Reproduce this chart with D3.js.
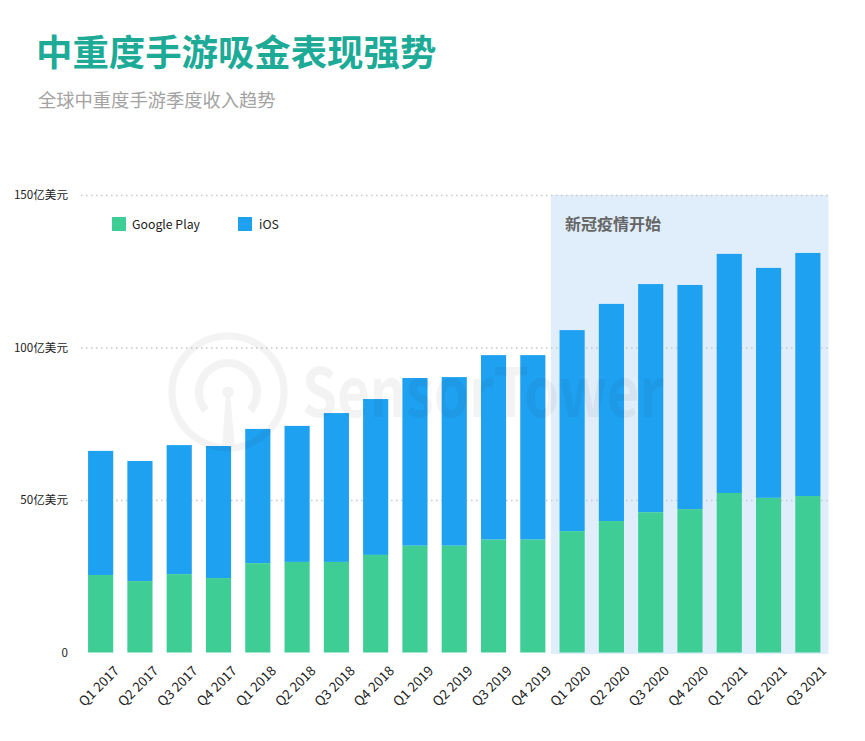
<!DOCTYPE html>
<html>
<head>
<meta charset="utf-8">
<script src="https://cdn.jsdelivr.net/npm/d3@7"></script>
<style>
  html, body { margin: 0; padding: 0; background: #fff; }
  svg { display: block; }
  text { font-family: "Noto Sans CJK SC", "Noto Sans", sans-serif; }
  .axis .domain { display: none; }
  .axis line { stroke: none; }
  .gridlines .domain { display: none; }
  .gridlines line { stroke: #c8c8c8; stroke-width: 1.5; stroke-dasharray: 1.5 3.5; }
</style>
</head>
<body>
<svg class="plot" width="865" height="741"></svg>
<script>
  const quarters = ["Q1 2017", "Q2 2017", "Q3 2017", "Q4 2017", "Q1 2018", "Q2 2018", "Q3 2018", "Q4 2018",
    "Q1 2019", "Q2 2019", "Q3 2019", "Q4 2019", "Q1 2020", "Q2 2020", "Q3 2020", "Q4 2020", "Q1 2021", "Q2 2021", "Q3 2021"]
  const googlePlay = [25.4, 23.4, 25.7, 24.4, 29.3, 29.7, 29.7, 32, 35, 35, 37, 37, 39.8, 43.1, 46, 47, 52.3, 50.7, 51.3]
  const ios = [40.7, 39.4, 42.3, 43.3, 44, 44.6, 48.8, 51.1, 55, 55.3, 60.5, 60.5, 65.9, 71.2, 74.8, 73.5, 78.4, 75.4, 79.7]
  const yTicks = [0, 50, 100, 150]
  const yTickLabels = ["0", "50亿美元", "100亿美元", "150亿美元"]
  const seriesNames = ["Google Play", "iOS"]
  const seriesColors = ["#3ecd94", "#1fa1f2"]
  const covidStart = "Q1 2020"
  const covidLabel = "新冠疫情开始"

  const svg = d3.select("svg.plot")
  const margin = { top: 195, right: 38, bottom: 88, left: 81 }
  const width = 865
  const height = 741
  const chart_right = width - margin.right + 0.5
  const chart_bottom = height - margin.bottom

  const xScale = d3.scaleBand().domain(quarters).range([margin.left, chart_right]).paddingInner(0.36).paddingOuter(0.18)
  const yScale = d3.scaleLinear().domain([0, 150]).range([chart_bottom - 0.5, margin.top])

  svg.append("text").attr("x", 36).attr("y", 66)
    .attr("font-size", 36.4).attr("font-weight", 700).attr("fill", "#1dab98")
    .text("中重度手游吸金表现强势")
  svg.append("text").attr("x", 38).attr("y", 107)
    .attr("font-size", 18.3).attr("fill", "#a3a3a3")
    .text("全球中重度手游季度收入趋势")

  // shaded covid period
  const covidLeft = xScale(covidStart) - xScale.step() * 0.22
  svg.append("rect")
    .attr("x", covidLeft)
    .attr("y", yScale(150))
    .attr("width", chart_right + 1 - covidLeft)
    .attr("height", yScale(0) - yScale(150) + 1.5)
    .attr("fill", "#e0eefb")

  svg.append("g")
    .attr("class", "gridlines")
    .attr("transform", "translate(" + margin.left + ",0)")
    .call(d3.axisLeft(yScale).tickValues(yTicks.slice(1)).tickFormat("").tickSize(-(chart_right + 1 - margin.left)))

  let leftAxis = d3.axisLeft(yScale).tickValues(yTicks).tickFormat((d, i) => yTickLabels[i]).tickSize(0).tickPadding(13)
  svg.append("g")
    .attr("class", "y axis")
    .attr("transform", "translate(" + margin.left + ",0)")
    .call(leftAxis)
    .selectAll("text")
    .attr("font-size", 11.6)
    .attr("fill", "#222")

  let bottomAxis = d3.axisBottom(xScale).tickSize(0).tickPadding(0)
  svg.append("g")
    .attr("class", "x axis")
    .attr("transform", "translate(0," + yScale(0) + ")")
    .call(bottomAxis)
    .selectAll("text")
    .attr("font-size", 13.4)
    .attr("fill", "#222")
    .attr("text-anchor", "end")
    .attr("dy", "0.35em")
    .attr("transform", d => "translate(16,16) rotate(-45)")

  // stacked bars
  quarters.forEach((q, i) => {
    svg.append("rect")
      .attr("x", xScale(q))
      .attr("y", yScale(googlePlay[i] + ios[i]))
      .attr("width", xScale.bandwidth())
      .attr("height", yScale(googlePlay[i]) - yScale(googlePlay[i] + ios[i]))
      .attr("fill", seriesColors[1])
    svg.append("rect")
      .attr("x", xScale(q))
      .attr("y", yScale(googlePlay[i]))
      .attr("width", xScale.bandwidth())
      .attr("height", yScale(0) - yScale(googlePlay[i]))
      .attr("fill", seriesColors[0])
  })

  // legend
  const legendX = [112, 238]
  seriesNames.forEach((name, i) => {
    svg.append("rect")
      .attr("x", legendX[i]).attr("y", 217)
      .attr("width", 14).attr("height", 14)
      .attr("fill", seriesColors[i])
    svg.append("text")
      .attr("x", legendX[i] + (i == 0 ? 20 : 21)).attr("y", 229)
      .attr("font-size", 12.3).attr("fill", "#222")
      .text(name)
  })

  svg.append("text").attr("x", 565).attr("y", 230)
    .attr("font-size", 16).attr("font-weight", 700).attr("fill", "#666")
    .text(covidLabel)

  // watermark goes on top, it tints the bars underneath
  const mark = svg.append("g").attr("opacity", 0.045).attr("fill", "#000").attr("stroke", "#000")
  mark.append("circle").attr("cx", 228).attr("cy", 392).attr("r", 56).attr("fill", "none").attr("stroke-width", 7)
  mark.append("path")
    .attr("d", d3.arc()({ innerRadius: 25, outerRadius: 33, startAngle: Math.PI * 0.72, endAngle: -Math.PI * 0.72 }))
    .attr("transform", "translate(228,392)").attr("stroke", "none")
  mark.append("circle").attr("cx", 228).attr("cy", 392).attr("r", 5.5).attr("stroke", "none")
  mark.append("path").attr("d", "M226,394L230,394L235,450L222,450Z").attr("stroke", "none")
  mark.append("text")
    .attr("x", 302).attr("y", 417)
    .attr("font-size", 68).attr("font-weight", 700).attr("stroke", "none")
    .attr("textLength", 362).attr("lengthAdjust", "spacingAndGlyphs")
    .text("SensorTower")
</script>
</body>
</html>
